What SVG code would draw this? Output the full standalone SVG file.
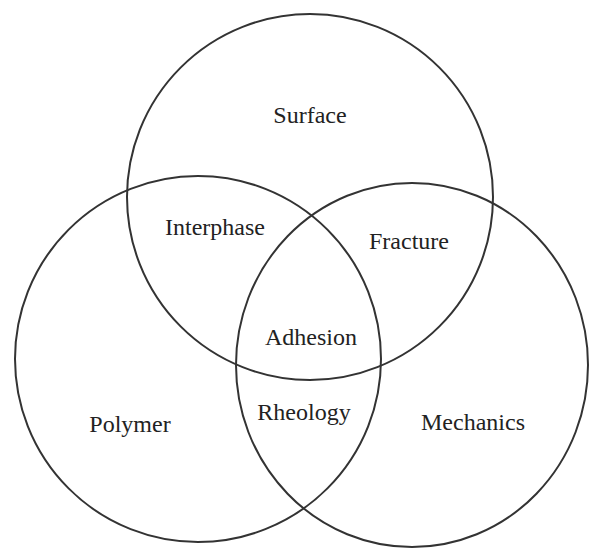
<svg xmlns="http://www.w3.org/2000/svg" width="590" height="548" viewBox="0 0 590 548">
<style>
.c{fill:none;stroke:#333;stroke-width:2}
.t{font-family:"Liberation Serif","Times New Roman",serif;font-size:24px;fill:#222;text-anchor:middle}
</style>
<rect width="590" height="548" fill="#fff"/>
<g id="surface"><circle class="c" cx="310" cy="197" r="183"/><text class="t" x="310" y="123">Surface</text></g>
<g id="polymer"><circle class="c" cx="198" cy="359" r="183"/><text class="t" x="130" y="432">Polymer</text></g>
<g id="mechanics"><ellipse class="c" cx="412" cy="365" rx="176" ry="182"/><text class="t" x="473" y="430">Mechanics</text></g>
<g id="interphase"><text class="t" x="215" y="235">Interphase</text></g>
<g id="fracture"><text class="t" x="409" y="249">Fracture</text></g>
<g id="adhesion"><text class="t" x="311" y="345">Adhesion</text></g>
<g id="rheology"><text class="t" x="304" y="420">Rheology</text></g>
<g id="connectors"></g>
</svg>
